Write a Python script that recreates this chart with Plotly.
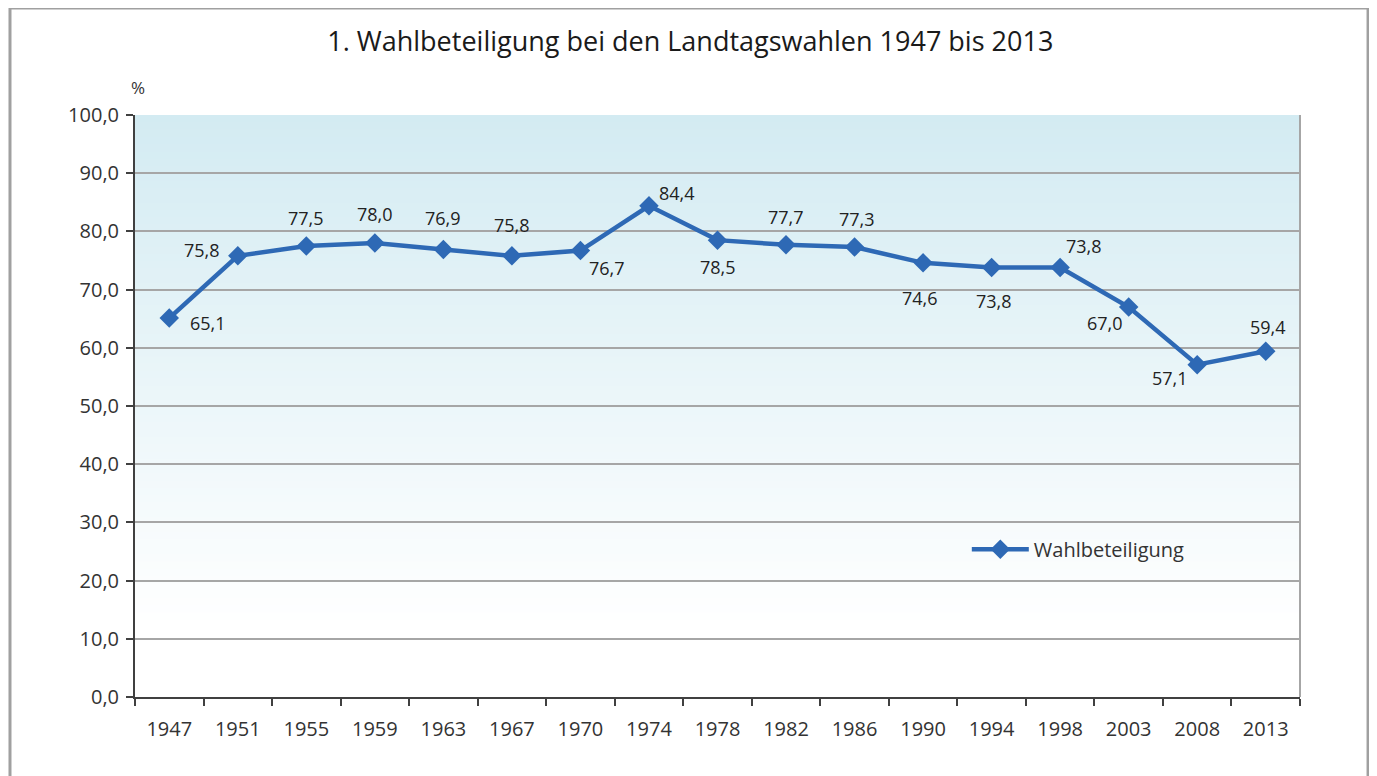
import plotly.graph_objects as go

years = ["1947", "1951", "1955", "1959", "1963", "1967", "1970", "1974", "1978",
         "1982", "1986", "1990", "1994", "1998", "2003", "2008", "2013"]
turnout = [65.1, 75.8, 77.5, 78.0, 76.9, 75.8, 76.7, 84.4, 78.5,
           77.7, 77.3, 74.6, 73.8, 73.8, 67.0, 57.1, 59.4]
# label offsets in pixels (dx, dy up positive)
label_dx = [39, -36, 0, 0, 0, 0, 27, 28, 0, 0, 2, -3, 2, 24, -24, -27, 2]
label_dy = [-5, 6, 28, 29, 31, 31, -17, 13, -27, 28, 28, -35, -34, 21, -16, -13, 24]

title = "1. Wahlbeteiligung bei den Landtagswahlen 1947 bis 2013"
series_name = "Wahlbeteiligung"
line_color = "#2e69b5"
font_family = "Open Sans, Noto Sans, sans-serif"

fig = go.Figure()

fig.add_trace(go.Scatter(
    x=years, y=turnout, mode="lines+markers", name=series_name,
    line=dict(color=line_color, width=4.5),
    marker=dict(symbol="diamond", size=15, color=line_color),
    showlegend=True,
))

# gradient background (stacked rects, each to the top, to avoid seams)
n = 70
top = (211, 235, 242)
bot = (255, 255, 255)
g0 = 0.12
shapes = []
for i in range(n):
    f0 = g0 + (1 - g0) * i / n
    t = (i + 0.5) / n
    c = tuple(int(round(bot[k] + (top[k] - bot[k]) * t)) for k in range(3))
    shapes.append(dict(type="rect", xref="x domain", yref="y domain",
                       x0=0, x1=1, y0=f0, y1=1, layer="below",
                       line=dict(width=0), fillcolor="rgb(%d,%d,%d)" % c))
# outer frame
shapes.append(dict(type="rect", xref="paper", yref="paper",
                   x0=-0.1073, x1=1.0584, y0=-0.2, y1=1.1838,
                   line=dict(color="#a0a0a0", width=3), fillcolor="rgba(0,0,0,0)"))
# right border of plot
shapes.append(dict(type="line", xref="x domain", yref="y domain",
                   x0=1, x1=1, y0=0, y1=1, line=dict(color="#a6a6a6", width=2)))

annotations = []
for i, (v, dx, dy) in enumerate(zip(turnout, label_dx, label_dy)):
    annotations.append(dict(x=i, y=v, xref="x", yref="y",
                            text=f"{v:.1f}".replace(".", ","), showarrow=False,
                            xshift=dx, yshift=dy,
                            font=dict(size=18, color="#222222", family=font_family)))
annotations.append(dict(x=-0.005, y=1.024, xref="paper", yref="paper", text="%",
                        showarrow=False, xanchor="left", yanchor="bottom",
                        font=dict(size=17, color="#333333", family=font_family)))

fig.update_layout(
    width=1377, height=776,
    margin=dict(l=127, r=85, t=107, b=87),
    paper_bgcolor="white", plot_bgcolor="rgba(0,0,0,0)",
    separators=",.",
    font=dict(family=font_family, color="#222222"),
    title=dict(text=title, x=0.4955, xref="container", xanchor="center",
               y=1 - 34 / 776, yanchor="middle",
               font=dict(size=27, color="#1a1a1a", family=font_family)),
    shapes=shapes, annotations=annotations,
    legend=dict(x=0.714, y=0.254, xanchor="left", yanchor="middle",
                bgcolor="rgba(0,0,0,0)", itemwidth=57,
                font=dict(size=20, color="#333333", family=font_family)),
    xaxis=dict(type="category", tickson="boundaries", ticks="outside",
               ticklen=7, tickwidth=2, tickcolor="#404040",
               showline=True, linecolor="#404040", linewidth=2,
               showgrid=False, tickfont=dict(size=20, color="#333333"),
               ticklabelstandoff=13,
               range=[-0.5, 16.5]),
    yaxis=dict(range=[0, 100], dtick=10, tickformat=".1f", ticks="outside",
               ticklen=7, tickwidth=2, tickcolor="#404040",
               showline=True, linecolor="#404040", linewidth=2,
               showgrid=True, gridcolor="#a6a6a6", gridwidth=2,
               ticklabelstandoff=3,
               zeroline=False, tickfont=dict(size=20, color="#333333")),
)

fig.write_html("out.html")
